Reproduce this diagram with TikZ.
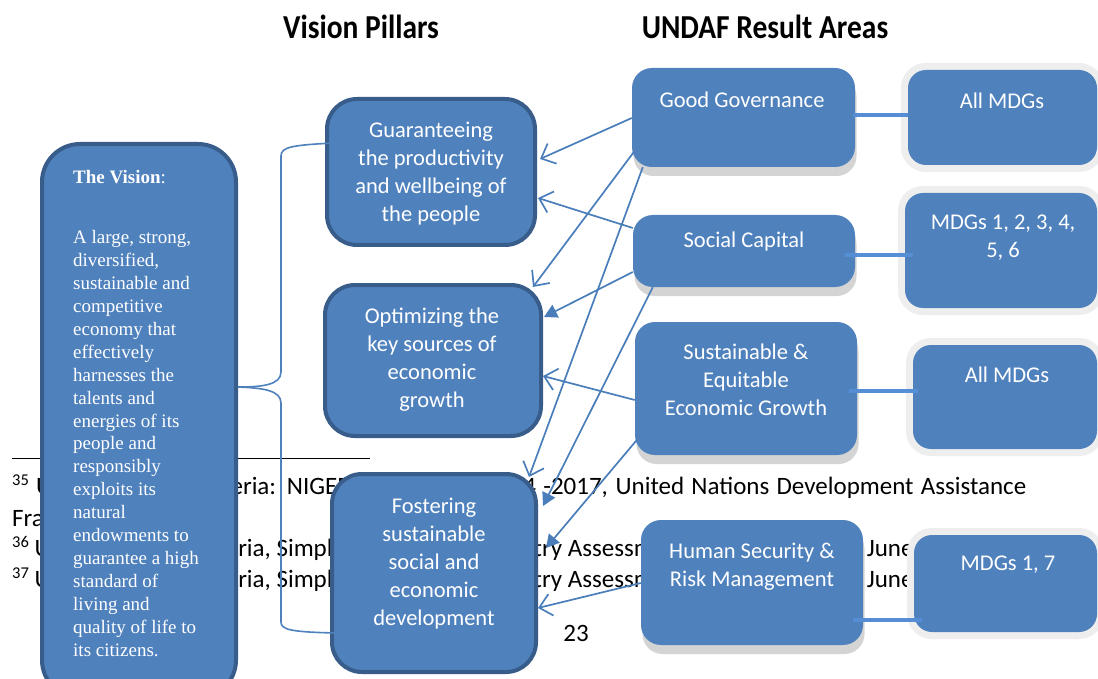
\documentclass[tikz,border=0pt]{standalone}
\usepackage{fontspec}
\usetikzlibrary{arrows.meta,calc}

% fonts
\newfontfamily\boxfont{Carlito}
\newfontfamily\headfont[FakeStretch=0.88]{Carlito}
\newfontfamily\notefont{Carlito}
\newfontfamily\visionfont{Liberation Serif}
\newcommand\notesup[1]{\raisebox{9pt}{\fontsize{16.5}{17}\selectfont #1}}

% colours
\definecolor{boxblue}{HTML}{4F81BD}
\definecolor{boxedge}{HTML}{385D8A}
\definecolor{linkblue}{HTML}{4A7EBB}
\definecolor{barblue}{HTML}{558ED5}
\definecolor{shadowgray}{HTML}{D4D4D4}
\definecolor{halogray}{HTML}{EEEEEE}

\tikzset{
  pillar/.style={draw=boxedge, line width=4pt, fill=boxblue,
    rounded corners=30pt, inner sep=0pt},
  area/.style={fill=boxblue, rounded corners=20pt, inner sep=0pt,
    preaction={fill=shadowgray, transform canvas={xshift=1.5pt,yshift=-9pt}}},
  goal/.style={fill=boxblue, rounded corners=18pt, inner sep=0pt,
    preaction={draw=halogray, line width=14pt}},
  boxtext/.style={text=white, align=center, inner sep=0pt,
    font={\boxfont\fontsize{22.5}{28}\selectfont}},
  visiontext/.style={text=white, align=left, inner sep=0pt,
    font={\visionfont\fontsize{19}{22.94}\selectfont}},
  headtext/.style={text=black, inner sep=0pt,
    font={\headfont\bfseries\fontsize{33.5}{36}\selectfont}},
  notetext/.style={text=black, inner sep=0pt,
    font={\notefont\fontsize{25}{30}\selectfont}},
  openarrow/.style={draw=linkblue, line width=1.7pt,
    -{Straight Barb[length=12pt,width=22pt]}},
  solidarrow/.style={draw=linkblue, line width=1.7pt,
    -{Triangle[length=13pt,width=14pt]}},
  bracket/.style={draw=boxblue, line width=1.6pt},
  goallink/.style={draw=barblue, line width=3.5pt},
}

\begin{document}
\begin{tikzpicture}[x=1pt,y=-1pt]
  \fill[white] (0,0) rectangle (1098,679);
  \useasboundingbox (0,0) rectangle (1098,679);

  % page footnotes lying underneath the chart
  \draw[black, line width=0.9pt] (12,458) -- (370,458);
  \node[notetext, anchor=base west] (fn35) at (12,494)
    {\makebox[1014pt][s]{\notesup{35} United Nations Nigeria: NIGERIA UNDAF III 2014 -2017, United Nations Development Assistance}};
  \node[notetext, anchor=base west] (fn35b) at (12,526) {Framework};
  \node[notetext, anchor=base west] (fn36) at (12,556)
    {\notesup{36} United Nations Nigeria, Simplified Common Country Assessment (CCA) Document June 2013};
  \node[notetext, anchor=base west] (fn37) at (12,587)
    {\notesup{37} United Nations Nigeria, Simplified Common Country Assessment (CCA) Document June 2013};
  \node[notetext] (pagenum) at (576,633) {23};

  % column headings
  \node[headtext] (hpillars) at (361,27) {Vision Pillars};
  \node[headtext] (hareas) at (765,27) {UNDAF Result Areas};

  % the vision
  \node[pillar, rounded corners=38pt, minimum width=194pt, minimum height=554pt] (vision) at (139,421) {};
  \node[visiontext, anchor=west] (visionhead) at (73,177) {\textbf{The Vision}:};
  \node[visiontext, anchor=west] (visionbody) at (73,443.5)
    {A large, strong,\\diversified,\\sustainable and\\competitive\\economy that\\effectively\\harnesses the\\talents and\\energies of its\\people and\\responsibly\\exploits its\\natural\\endowments to\\guarantee a high\\standard of\\living and\\quality of life to\\its citizens.};

  % vision pillars
  \node[pillar, minimum width=208pt, minimum height=146pt] (p1) at (431,172) {};
  \node[boxtext] (p1t) at (431,174) {Guaranteeing\\the productivity\\and wellbeing of\\the people};
  \node[pillar, minimum width=216pt, minimum height=151pt] (p2) at (433,360.5) {};
  \node[boxtext] (p2t) at (432,360) {Optimizing the\\key sources of\\economic\\growth};
  \node[pillar, minimum width=204pt, minimum height=198pt] (p3) at (434,573) {};
  \node[boxtext] (p3t) at (434,564) {Fostering\\sustainable\\social and\\economic\\development};

  % UNDAF result areas
  \node[area, minimum width=223pt, minimum height=99pt] (gg) at (743.5,117.5) {};
  \node[boxtext] (ggt) at (742,100) {Good Governance};
  \node[area, minimum width=222pt, minimum height=72pt] (sc) at (744,251) {};
  \node[boxtext] (sct) at (744,241.5) {Social Capital};
  \node[area, minimum width=222pt, minimum height=133pt] (se) at (746,388.5) {};
  \node[boxtext] (set) at (746,379.5) {Sustainable \&\\Equitable\\Economic Growth};
  \node[area, minimum width=222pt, minimum height=125pt] (hs) at (752,582.5) {};
  \node[boxtext] (hst) at (752,567) {Human Security \&\\Risk Management};

  % MDG targets
  \node[goal, minimum width=189pt, minimum height=95pt] (m1) at (1002.5,117.5) {};
  \node[boxtext] (m1t) at (1002,100.5) {All MDGs};
  \node[goal, minimum width=192pt, minimum height=115pt] (m2) at (1001,250.5) {};
  \node[boxtext] (m2t) at (1003,237.5) {MDGs 1, 2, 3, 4,\\5, 6};
  \node[goal, minimum width=184pt, minimum height=104pt] (m3) at (1005,397) {};
  \node[boxtext] (m3t) at (1007,374.5) {All MDGs};
  \node[goal, minimum width=183pt, minimum height=97pt] (m4) at (1005.5,583.5) {};
  \node[boxtext] (m4t) at (1008,564.5) {MDGs 1, 7};

  % result areas to MDGs
  \draw[goallink] ($(gg.east |- 0,115)+(-2,0)$) -- (m1.west |- 0,115);
  \draw[goallink] ($(sc.east |- 0,255)+(-10,0)$) -- ($(m2.west |- 0,255)+(8,0)$);
  \draw[goallink] ($(se.east |- 0,391)+(-8,0)$) -- ($(m3.west |- 0,391)+(5,0)$);
  \draw[goallink] ($(hs.east |- 0,620)+(-10,0)$) -- ($(m4.west |- 0,620)+(8,0)$);

  % result areas feeding the pillars
  \draw[openarrow] (gg.west |- 0,118) -- ($(p1.east |- 0,159)+(3,0)$);
  \draw[openarrow] (sc.west |- 0,228) -- ($(p1.east |- 0,198)+(1,0)$);
  \draw[openarrow] ($(gg.west |- 0,152)+(2,0)$) -- ($(p2.north east)+(-10,4)$);
  \draw[solidarrow] (sc.west |- 0,272) -- ($(p2.east |- 0,317)+(1,0)$);
  \draw[openarrow] (se.west |- 0,400) -- (p2.east |- 0,376);
  \draw[openarrow] ($(gg.south west)+(11,0)$) -- ($(p3.north east)+(-9,5)$);
  \draw[solidarrow] ($(sc.south west)+(20,0)$) -- ($(p3.east |- 0,506)+(5,0)$);
  \draw[solidarrow] ($(se.west |- 0,440)+(2,0)$) -- ($(p3.east |- 0,548)+(8,0)$);
  \draw[openarrow] (hs.west |- 0,583) -- (p3.east |- 0,608);

  % brace from the vision to the pillars
  \coordinate (bracetip) at (vision.east |- 0,387);
  \draw[bracket] (bracetip) .. controls (262,387) and (281,385) .. (281,372)
    -- (281,156) .. controls (281,147) and (292,145) .. ($(p1.west |- 0,143)+(10,0)$);
  \draw[bracket] (bracetip) .. controls (262,388) and (281,390) .. (281,403)
    -- (281,622) .. controls (281,630) and (292,632) .. ($(p3.west |- 0,633)+(6,0)$);
\end{tikzpicture}
\end{document}
